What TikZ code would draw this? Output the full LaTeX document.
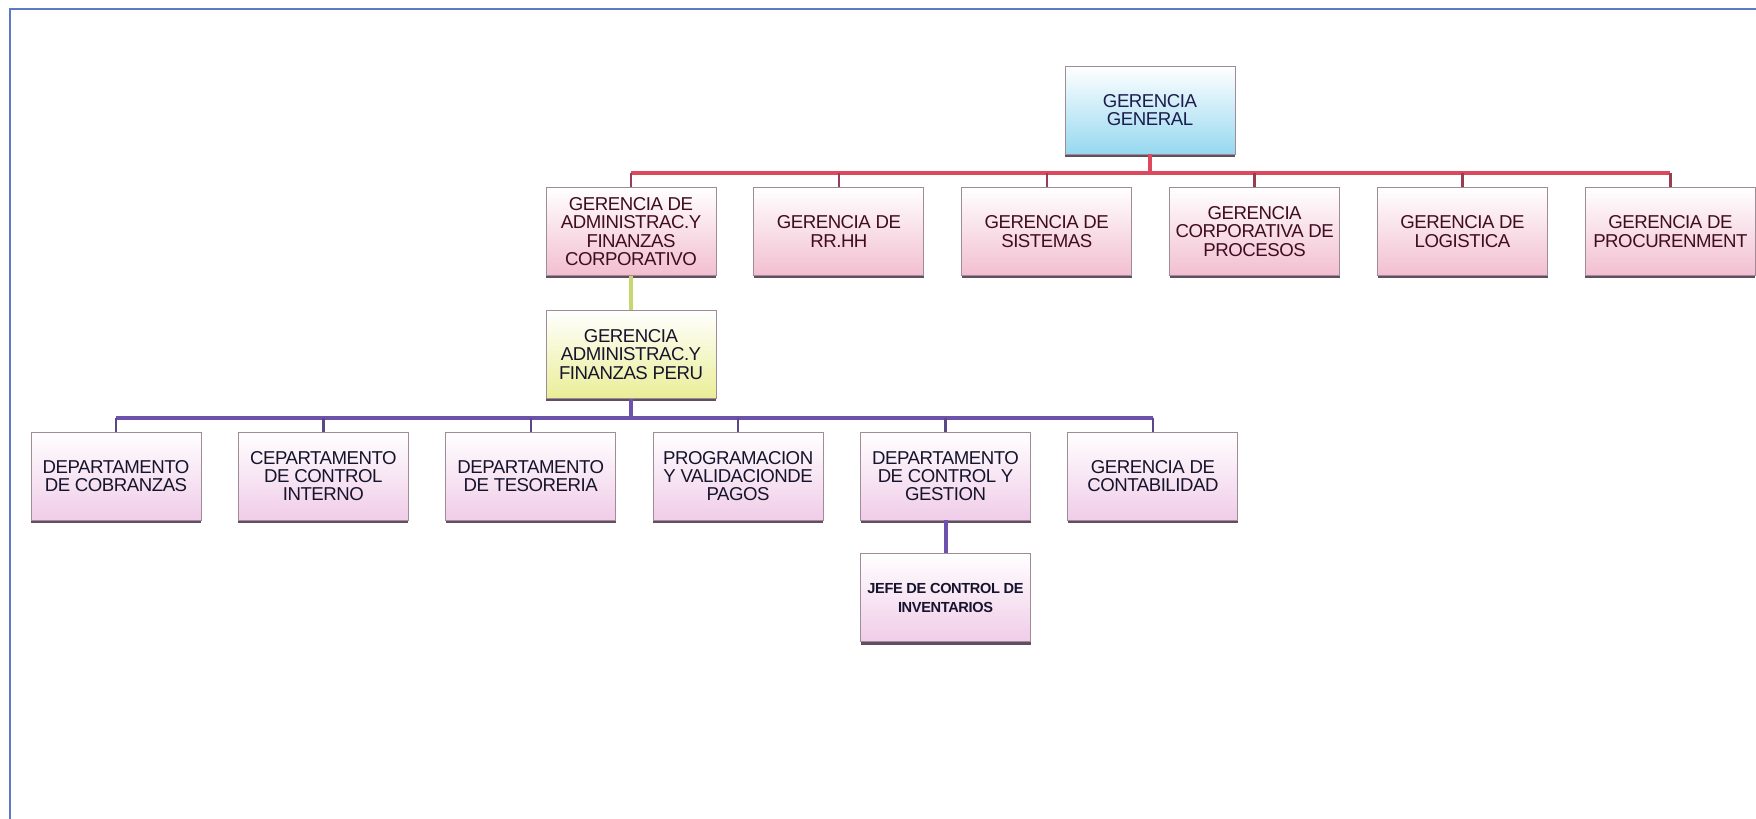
\documentclass[tikz,border=0pt]{standalone}
\usepackage{fontspec}
\setmainfont{Liberation Sans}[LetterSpace=-2.5]
\usepackage{xcolor}
\usetikzlibrary{positioning,shadows}

\definecolor{frameblue}{RGB}{95,120,200}
\definecolor{busred}{RGB}{220,72,92}
\definecolor{dropred}{RGB}{150,62,82}
\definecolor{busgreen}{RGB}{200,215,110}
\definecolor{buspurple}{RGB}{108,82,170}
\definecolor{droppurple}{RGB}{90,72,135}
\definecolor{textmaroon}{RGB}{64,12,32}
\definecolor{textnavy}{RGB}{28,28,78}
\definecolor{textdark}{RGB}{22,20,44}
\definecolor{pinkfill}{RGB}{242,190,208}
\definecolor{lilacfill}{RGB}{240,204,232}
\definecolor{bluefill}{RGB}{150,216,240}
\definecolor{yellowfill}{RGB}{234,238,150}
\definecolor{boxedge}{RGB}{160,140,150}
\definecolor{shadowdark}{RGB}{80,60,80}

\newcommand{\boxfont}{\fontsize{10.6}{10.4}\selectfont}
\newcommand{\smallboxfont}{\fontsize{8.3}{10.4}\selectfont\bfseries}

\begin{document}
\begin{tikzpicture}[
    unit/.style={rectangle, draw=boxedge, line width=0.5pt, minimum width=3.4cm, minimum height=1.76cm, inner xsep=0.05cm, align=center, font=\boxfont, drop shadow={shadow xshift=0pt, shadow yshift=-1.5pt, fill=shadowdark, opacity=0.9}},
    general/.style={unit, top color=white, bottom color=bluefill, text=textnavy},
    gerencia/.style={unit, top color=white, bottom color=pinkfill, text=textmaroon},
    local/.style={unit, top color=white, bottom color=yellowfill, text=textdark},
    depto/.style={unit, top color=white, bottom color=lilacfill, text=textdark},
    redline/.style={draw=busred, line width=2.3pt},
    reddrop/.style={draw=dropred, line width=1.4pt},
    greenline/.style={draw=busgreen, line width=2.1pt},
    purpleline/.style={draw=buspurple, line width=2.3pt},
    purpledrop/.style={draw=droppurple, line width=1.4pt}
]
\useasboundingbox (0,0) rectangle (35.12,-16.38);

% Frame
\draw[frameblue, line width=1.1pt] (35.12,-0.18) -- (0.2,-0.18) -- (0.2,-16.38);

% Top
\node[general] (gg) at (23.0,-2.2) {GERENCIA\\GENERAL};

% Gerencias
\node[gerencia] (adm) at (12.62,-4.63) {GERENCIA DE\\ADMINISTRAC.Y\\FINANZAS\\CORPORATIVO};
\node[gerencia, right=0.74cm of adm] (rrhh) {GERENCIA DE\\RR.HH};
\node[gerencia, right=0.74cm of rrhh] (sist) {GERENCIA DE\\SISTEMAS};
\node[gerencia, right=0.74cm of sist] (proc) {GERENCIA\\CORPORATIVA DE\\PROCESOS};
\node[gerencia, right=0.74cm of proc] (logis) {GERENCIA DE\\LOGISTICA};
\node[gerencia, right=0.74cm of logis] (procur) {GERENCIA DE\\PROCURENMENT};

% Peru
\node[local, below=0.68cm of adm] (peru) {GERENCIA\\ADMINISTRAC.Y\\FINANZAS PERU};

% Departamentos
\node[depto] (cobr) at (2.32,-9.52) {DEPARTAMENTO\\DE COBRANZAS};
\node[depto, right=0.73cm of cobr] (ctrl) {CEPARTAMENTO\\DE CONTROL\\INTERNO};
\node[depto, right=0.73cm of ctrl] (teso) {DEPARTAMENTO\\DE TESORERIA};
\node[depto, right=0.73cm of teso] (pagos) {PROGRAMACION\\Y VALIDACIONDE\\PAGOS};
\node[depto, right=0.73cm of pagos] (gest) {DEPARTAMENTO\\DE CONTROL Y\\GESTION};
\node[depto, right=0.73cm of gest] (conta) {GERENCIA DE\\CONTABILIDAD};

\node[depto, font=\smallboxfont, below=0.66cm of gest] (inv) {JEFE DE CONTROL DE\\INVENTARIOS};

% Buses
\coordinate[below=0.38cm of gg] (redbus);
\coordinate[below=0.38cm of peru] (purplebus);

% Connectors
\draw[redline] (gg) -- (redbus);
\draw[redline] (adm |- redbus) -- (procur |- redbus);
\foreach \n in {adm,rrhh,sist,proc,logis,procur}
    \draw[reddrop] (\n |- redbus) -- (\n);

\draw[greenline] (adm) -- (peru);

\draw[purpleline] (peru) -- (purplebus);
\draw[purpleline] (cobr |- purplebus) -- (conta |- purplebus);
\foreach \n in {cobr,ctrl,teso,pagos,gest,conta}
    \draw[purpledrop] (\n |- purplebus) -- (\n);

\draw[purpleline] (gest) -- (inv);

\end{tikzpicture}
\end{document}
